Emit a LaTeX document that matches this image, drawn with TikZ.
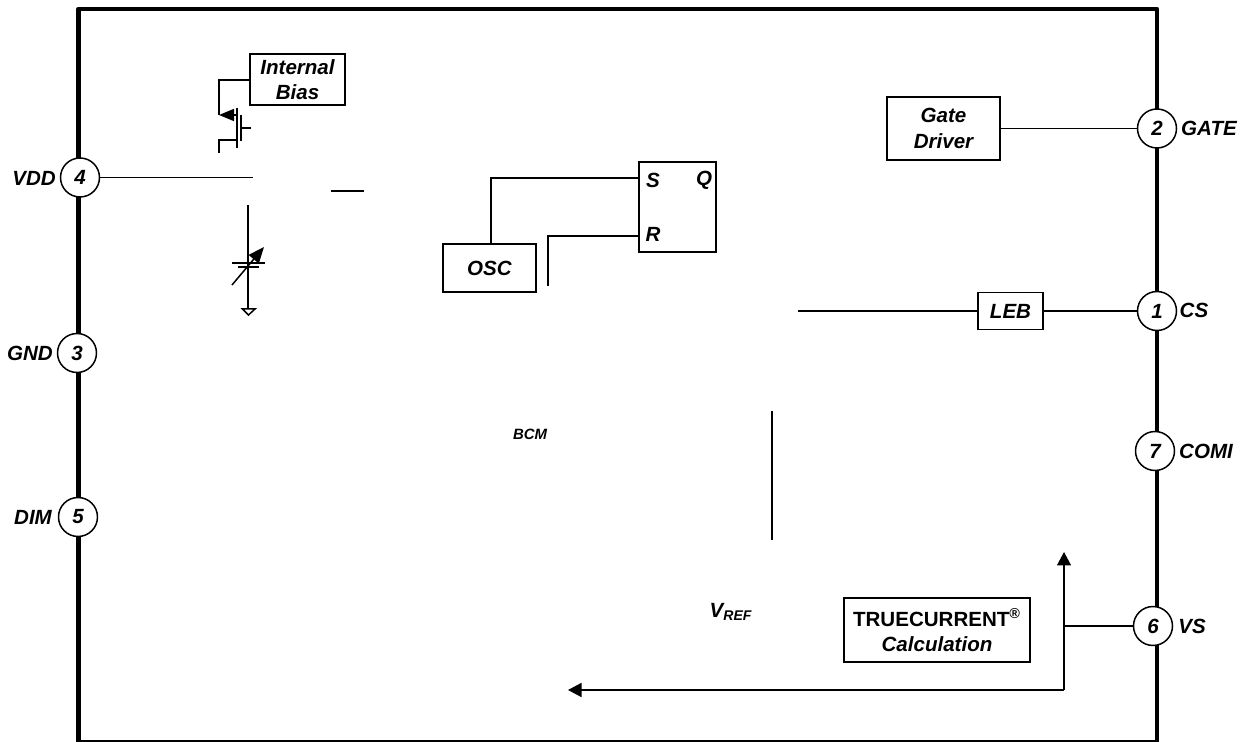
\documentclass[tikz,border=0pt]{standalone}
\usepackage{fontspec}
\setmainfont{Liberation Sans}
\usetikzlibrary{arrows.meta}

\tikzset{
  wire/.style={line width=0.85pt},
  block/.style={draw, line width=0.85pt, inner sep=0pt, align=center, font=\bfseries\itshape\fontsize{11.7}{14.5}\selectfont},
  pin/.style={circle, draw, fill=white, line width=0.85pt, minimum size=1.56cm*0.5, inner sep=0pt, font=\bfseries\itshape\fontsize{11.7}{14}\selectfont},
  pinlabel/.style={inner sep=0pt, font=\bfseries\itshape\fontsize{11.7}{14}\selectfont},
  srlabel/.style={inner sep=0pt, font=\bfseries\itshape\fontsize{11.7}{14}\selectfont},
  tip/.style={-{Triangle[width=0.28cm,length=0.27cm]}},
}

\begin{document}
\begin{tikzpicture}[x=0.02cm, y=-0.02cm]
\useasboundingbox (0,0) rectangle (1247,742);

% package outline
\draw[line width=2.4pt, line join=round] (78.5,9) rectangle (1157,742.5);

% pins
\node[pin] (pVDD) at (80,177.5) {4};
\node[pin] (pGND) at (77,353) {3};
\node[pin] (pDIM) at (78,517) {5};
\node[pin] (pGATE) at (1157,128.5) {2};
\node[pin] (pCS) at (1157,311) {1};
\node[pin] (pCOMI) at (1155,451) {7};
\node[pin] (pVS) at (1153,626) {6};

\node[pinlabel] (lVDD) at (34,178) {VDD};
\node[pinlabel] (lGND) at (30,353) {GND};
\node[pinlabel] (lDIM) at (33,517) {DIM};
\node[pinlabel] (lGATE) at (1209,128) {GATE};
\node[pinlabel] (lCS) at (1194,310) {CS};
\node[pinlabel] (lCOMI) at (1206,451) {COMI};
\node[pinlabel] (lVS) at (1192,626) {VS};

% blocks
\node[block, minimum width=1.9cm, minimum height=1.02cm] (bias) at (297.5,79.5) {Internal\\Bias};
\node[block, minimum width=2.26cm, minimum height=1.26cm] (driver) at (943.5,128.5) {Gate\\Driver};
\node[block, minimum width=1.86cm, minimum height=0.96cm] (osc) at (489.5,268) {OSC};
\node[block, minimum width=1.54cm, minimum height=1.8cm] (latch) at (677.5,207) {};
\node[block, minimum width=1.3cm, minimum height=0.74cm] (leb) at (1010.5,311) {LEB};
\node[block, minimum width=3.72cm, minimum height=1.28cm] (calc) at (937,630) {%
  {\upshape TRUECURRENT\textsuperscript{\textregistered}}\\Calculation};

\node[srlabel] (lS) at (653,180) {S};
\node[srlabel] (lQ) at (704,180) {Q};
\node[srlabel] (lR) at (653,234) {R};
\node[inner sep=0pt, font=\bfseries\itshape\fontsize{8.5}{10}\selectfont] (lBCM) at (530,434) {BCM};
\node[inner sep=0pt, font=\bfseries\itshape\fontsize{11.7}{14}\selectfont] (lVREF) at (731,612) {V\textsubscript{\fontsize{8}{10}\selectfont REF}};

% free ends
\coordinate (vddEnd) at (253,177.5);
\coordinate (stubL) at (331,191);
\coordinate (stubR) at (364,191);
\coordinate (sCorner) at (491,178);
\coordinate (oscTop) at (491,244);
\coordinate (rEnd) at (639,236);
\coordinate (rCorner) at (548,236);
\coordinate (rFree) at (548,286);
\coordinate (lebEnd) at (798,311);
\coordinate (vertT) at (772,411);
\coordinate (vertB) at (772,540);
\coordinate (vsJoin) at (1064,626);
\coordinate (arrowUp) at (1064,552);
\coordinate (arrowCorner) at (1064,690);
\coordinate (arrowLeft) at (568,690);

% connectors
\draw[wire] (pVDD) -- (vddEnd);
\draw[wire] (stubL) -- (stubR);
\draw[wire] (639,178) -- (sCorner) -- (oscTop);
\draw[wire] (rEnd) -- (rCorner) -- (rFree);
\draw[wire] (driver) -- (pGATE);
\draw[wire] (lebEnd) -- (leb);
\draw[wire] (leb) -- (pCS);
\draw[wire] (vertT) -- (vertB);
\draw[wire] (pVS) -- (vsJoin);
\draw[wire, tip] (arrowCorner) -- (arrowUp);
\draw[wire, tip] (arrowCorner) -- (arrowLeft);

% pmos
\draw[wire] (250,80) -- (219,80) -- (219,115);
\draw[wire, -{Triangle[width=0.24cm,length=0.3cm]}] (237,115) -- (219,115);
\draw[wire] (237,108) -- (237,148);
\draw[line width=1.3pt] (241,115) -- (241,141);
\draw[wire] (241,128) -- (251,128);
\draw[wire] (237,140) -- (219,140) -- (219,153);

% trim capacitor
\draw[wire] (248,205) -- (248,308);
\draw[wire] (232,263) -- (265,263);
\draw[line width=1.6pt] (238,267) -- (259,267);
\draw[wire, -{Triangle[width=0.26cm,length=0.32cm]}] (232,285) -- (264,247);
\draw[wire] (242.5,309) -- (255,309) -- (248.5,315) -- cycle;
\end{tikzpicture}
\end{document}
